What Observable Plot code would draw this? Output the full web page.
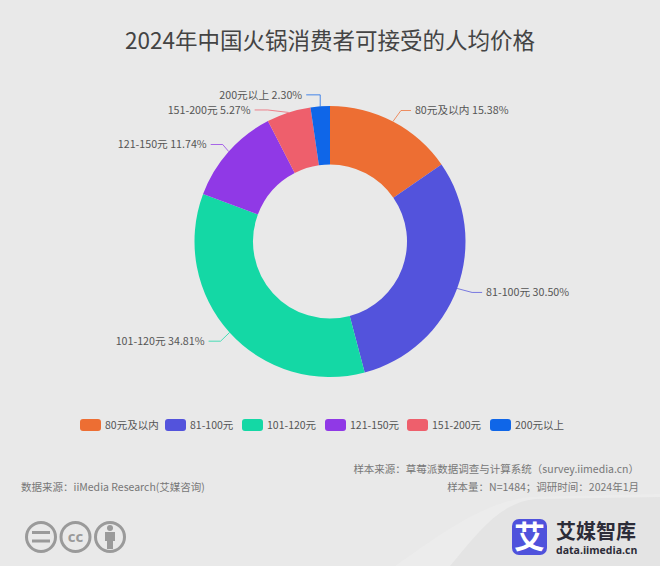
<!DOCTYPE html>
<html>
<head>
<meta charset="utf-8">
<script src="https://cdn.jsdelivr.net/npm/d3@7"></script>
<script src="https://cdn.jsdelivr.net/npm/@observablehq/plot@0.6"></script>
<style>
  html, body { margin: 0; padding: 0; }
  body { width: 660px; height: 566px; position: relative; overflow: hidden; background: #e9e9e9;
         font-family: "Noto Sans CJK SC", "Noto Sans", sans-serif; color: #555; }
  #deco, #chart { position: absolute; left: 0; top: 0; }
  #title { position: absolute; left: 0; width: 660px; top: 21px; text-align: center; font-size: 22.5px; line-height: 36px; color: #444; }
  #legend { position: absolute; left: 80px; top: 418px; display: flex; font-size: 10.5px; line-height: 14px; color: #555; white-space: nowrap; }
  #legend span.item { display: flex; flex: none; align-items: center; gap: 4px; }
  #legend i { display: block; flex: none; width: 21px; height: 12px; border-radius: 3px; }
  .note { position: absolute; font-size: 10.5px; line-height: 14px; color: #777; white-space: nowrap; }
  #brand { position: absolute; left: 556px; top: 519px; font-size: 20px; line-height: 24px; font-weight: 700; color: #2c2c38; white-space: nowrap; }
  #site { position: absolute; left: 556px; top: 544px; font-family: "Open Sans", sans-serif; font-size: 10.5px; line-height: 12px; font-weight: 700; color: #2c2c38; white-space: nowrap; }
</style>
</head>
<body>
<svg id="deco" width="660" height="566">
  <path d="M660 494L530 497C480 503 440 535 395 566L660 566Z" fill="#ececec"/>
  <path d="M660 497L535 499C500 503 480 530 450 566L660 566Z" fill="#e4e4e4"/>
  <g fill="none" stroke="#9a9a9a" stroke-width="3">
    <circle cx="41" cy="537" r="14.5"/>
    <circle cx="75.5" cy="537" r="14.5"/>
    <circle cx="110" cy="537" r="14.5"/>
  </g>
  <path d="M32 532.5h18M32 541h18" stroke="#9a9a9a" stroke-width="3"/>
  <text x="75.5" y="542" text-anchor="middle" font-family="Open Sans" font-weight="700" font-size="15" fill="#9a9a9a">cc</text>
  <circle cx="110" cy="528" r="3" fill="#9a9a9a"/>
  <path d="M105 532h10v9h-2v8h-6v-8h-2z" fill="#9a9a9a"/>
  <rect x="512" y="519" width="35" height="36" rx="7" fill="#4f52dc"/>
  <text x="529.5" y="548" text-anchor="middle" font-family="Noto Sans CJK SC" font-weight="700" font-size="31" fill="#fff">艾</text>
</svg>
<div id="chart"></div>
<div id="title">2024年中国火锅消费者可接受的人均价格</div>
<div id="legend"></div>
<div class="note" style="right:21px;top:462px">样本来源：草莓派数据调查与计算系统（survey.iimedia.cn）</div>
<div class="note" style="right:21px;top:480px">样本量：N=1484；调研时间：2024年1月</div>
<div class="note" style="left:21px;top:480px">数据来源：iiMedia Research(艾媒咨询)</div>
<div id="brand">艾媒智库</div>
<div id="site">data.iimedia.cn</div>
<script>
const categories = ["80元及以内", "81-100元", "101-120元", "121-150元", "151-200元", "200元以上"];
const shares = [15.38, 30.50, 34.81, 11.74, 5.27, 2.30];
const colors = ["#ed6e33", "#5353dc", "#14d8a5", "#9039e6", "#ee5f6c", "#0f66e8"];

// where each leader line bends, relative to the point on the rim, and how long its tail runs
const elbowOffsets = [[8, -11], [15, 4], [-9, 8.7], [-6, -7], [-21, -2.5], [0, -11.5]];
const tailLengths = [10, 10, 12, 12, 13, 14];
// legend item widths, so the swatches line up with the reference
const legendSteps = [85, 77, 83, 82, 83, 71];

const cx = 330, cy = 241.5, outer = 135.5, inner = 77;

const data = categories.map((category, i) => ({category, share: shares[i]}));

function drawDonut(index, scales, values) {
  const g = d3.create("svg:g");
  const arc = d3.arc().innerRadius(inner).outerRadius(outer);
  for (const i of index) {
    const a0 = values.x1[i], a1 = values.x2[i], mid = (a0 + a1) / 2;
    g.append("path")
      .attr("transform", `translate(${cx},${cy})`)
      .attr("d", arc({startAngle: a0, endAngle: a1}))
      .attr("fill", values.fill[i]);
    // leader line and its label
    const px = cx + outer * Math.sin(mid), py = cy - outer * Math.cos(mid);
    const [dx, dy] = elbowOffsets[i];
    const right = i < 2;
    const ex = px + dx, ey = py + dy;
    const tx = ex + (right ? tailLengths[i] : -tailLengths[i]);
    g.append("path")
      .attr("d", `M${px},${py}L${ex},${ey}L${tx},${ey}`)
      .attr("fill", "none")
      .attr("stroke", values.fill[i])
      .attr("stroke-opacity", 0.75);
    g.append("text")
      .attr("x", tx + (right ? 4 : -4))
      .attr("y", ey)
      .attr("dy", "0.35em")
      .attr("text-anchor", right ? "start" : "end")
      .attr("font-size", 10.7)
      .attr("fill", "#555")
      .text(`${data[i].category} ${data[i].share.toFixed(2)}%`);
  }
  return g.node();
}

const chart = Plot.plot({
  width: 660,
  height: 566,
  margin: 0,
  style: {background: "transparent", fontFamily: "'Noto Sans CJK SC', sans-serif"},
  x: {domain: [0, 100], range: [0, 2 * Math.PI], axis: null},
  color: {domain: categories, range: colors},
  marks: [
    Plot.barX(data, {x: "share", fill: "category", render: drawDonut})
  ]
});
d3.select("#chart").append(() => chart);

const legend = d3.select("#legend").selectAll("span").data(categories).join("span")
  .attr("class", "item")
  .style("width", (d, i) => legendSteps[i] + "px");
legend.append("i").style("background", (d, i) => colors[i]);
legend.append("span").text(d => d);
</script>
</body>
</html>
